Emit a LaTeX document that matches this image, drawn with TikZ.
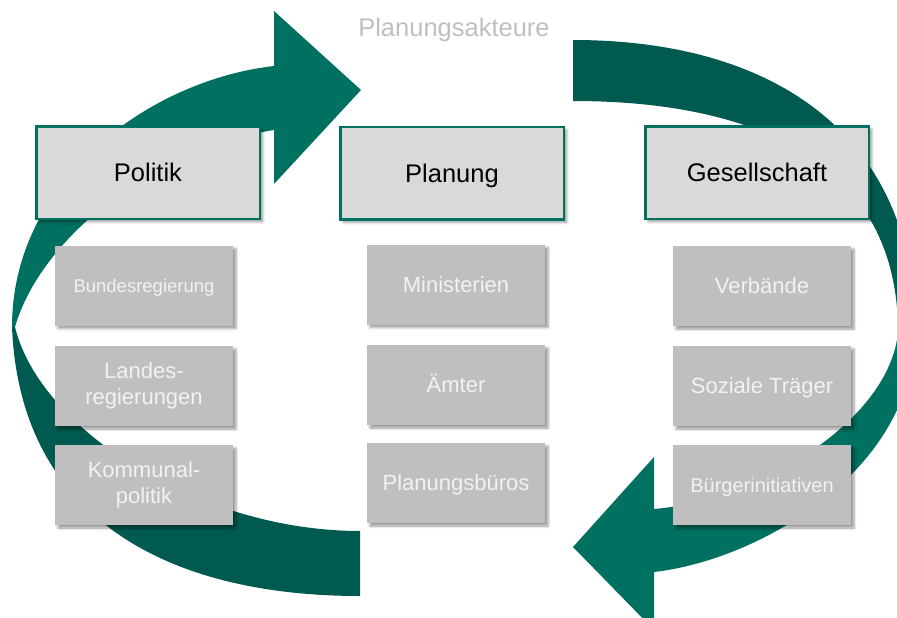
\documentclass[tikz,border=0pt]{standalone}
\usepackage{fontspec}
\setmainfont{Liberation Sans}
\usetikzlibrary{shadows.blur}

\definecolor{tealhell}{HTML}{007060}
\definecolor{tealdunkel}{HTML}{005A50}
\definecolor{kopfgrau}{HTML}{D9D9D9}
\definecolor{kastengrau}{HTML}{BFBFBF}
\definecolor{titelgrau}{HTML}{BFBFBF}
\definecolor{kastenschrift}{HTML}{F2F2F2}

\begin{document}
\begin{tikzpicture}[x=1pt, y=-1pt,
    schatten/.style={blur shadow={shadow xshift=3pt, shadow yshift=-3pt, shadow blur radius=2.5pt, shadow opacity=40}},
    kopf/.style={schatten, draw=tealhell, line width=2.5pt, fill=kopfgrau, text=black,
        minimum width=223.5pt, minimum height=92.5pt, inner sep=0pt,
        text height=18.3pt, text depth=0pt,
        font=\fontsize{25.5}{30}\selectfont},
    akteur/.style={schatten, fill=kastengrau, text=kastenschrift, align=center,
        minimum width=178pt, minimum height=80pt, inner sep=0pt,
        font=\fontsize{22}{26}\selectfont},
    einzeilig/.style={text height=#1, text depth=0pt},
    einzeilig/.default=15.75pt]

    \useasboundingbox (0, 0) rectangle (897, 618);

    \begin{scope}
    \clip (0, 0) rectangle (897, 618);

    % linker Pfeil, oberer Teil
    \fill[tealhell] (12, 327) .. controls (12, 180) and (150, 80) .. (274, 66)
        -- (274, 11) -- (361, 90) -- (274, 184) -- (274, 130)
        .. controls (150, 150) and (40, 240) .. (15, 327) -- cycle;
    % linker Pfeil, unterer Teil
    \fill[tealdunkel] (12, 327) .. controls (20, 520) and (170, 596) .. (360, 596)
        -- (360, 531) .. controls (200, 531) and (40, 430) .. (15, 327) -- cycle;

    % rechter Pfeil, oberer Teil
    \fill[tealdunkel] (573, 40) .. controls (780, 40) and (915, 140) .. (915, 330)
        -- (898, 332) .. controls (898, 165) and (760, 101) .. (573, 101) -- cycle;
    % rechter Pfeil, unterer Teil
    \fill[tealhell] (915, 330) .. controls (915, 470) and (760, 560) .. (654, 572)
        -- (654, 630) -- (573, 547) -- (654, 457) -- (654, 509)
        .. controls (760, 500) and (890, 420) .. (898, 332) -- cycle;
    \end{scope}

    \node[text=titelgrau, font=\fontsize{25.5}{30}\selectfont] (titel) at (454, 30) {Planungsakteure};

    \node[kopf] (politik) at (148, 172.5) {Politik};
    \node[kopf] (planung) at (452, 173) {Planung};
    \node[kopf] (gesellschaft) at (757, 172.5) {Gesellschaft};

    \node[akteur, einzeilig=13.25pt, font=\fontsize{18.5}{22}\selectfont] (bund) at (144, 285.5) {Bundesregierung};
    \node[akteur] (land) at (144, 386) {Landes-\\regierungen};
    \node[akteur] (kommune) at (144, 485) {Kommunal-\\politik};

    \node[akteur, einzeilig] (ministerien) at (456, 284.5) {Ministerien};
    \node[akteur, einzeilig] (aemter) at (456, 385) {Ämter};
    \node[akteur, einzeilig] (bueros) at (456, 483) {Planungsbüros};

    \node[akteur, einzeilig] (verbaende) at (762, 286) {Verbände};
    \node[akteur, einzeilig] (traeger) at (762, 386) {Soziale Träger};
    \node[akteur, einzeilig=14.3pt, font=\fontsize{20}{24}\selectfont] (initiativen) at (762, 485) {Bürgerinitiativen};

\end{tikzpicture}
\end{document}
